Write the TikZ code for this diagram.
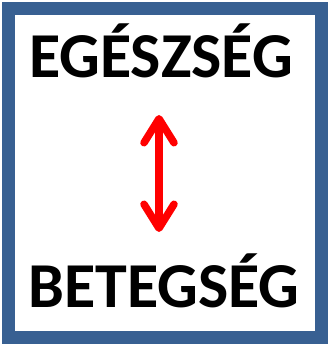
\documentclass[tikz,border=0pt]{standalone}
\usepackage{fontspec}
\setmainfont{Carlito}
\usetikzlibrary{arrows.meta}
\definecolor{framecol}{RGB}{56,96,146}
\definecolor{arrowred}{RGB}{255,0,0}

\begin{document}
\begin{tikzpicture}[x=1pt, y=-1pt, every node/.style={font=\fontsize{64}{64}\selectfont\bfseries, inner sep=0pt}]

\useasboundingbox (0,0) rectangle (328,347);

% Frame
\draw[framecol, line width=13pt] (8.5,8.5) rectangle (321.5,337.5);

% Words
\node[anchor=base] (egeszseg) at (161,78) {EGÉSZSÉG};
\node[anchor=base] (betegseg) at (164,307) {BETEGSÉG};

% Arrow
\coordinate (up) at (159,115);
\coordinate (down) at (159,232);
\draw[arrowred, line width=7.5pt, {Straight Barb[length=24pt, width=30pt, round]}-{Straight Barb[length=24pt, width=30pt, round]}] (up) -- (down);

\end{tikzpicture}
\end{document}
